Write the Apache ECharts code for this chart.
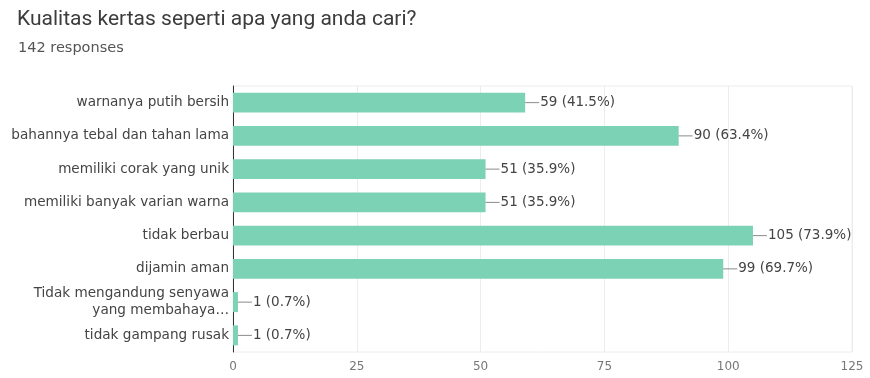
<!DOCTYPE html>
<html>
<head>
<meta charset="utf-8">
<script src="https://cdn.jsdelivr.net/npm/echarts@6/dist/echarts.min.js"></script>
<style>
  html, body { margin: 0; padding: 0; background: #fff; }
  #chart { width: 870px; height: 378px; }
</style>
</head>
<body>
<div id="chart"></div>
<script>
// Survey answers (top to bottom) and response counts
const categories = [
  'warnanya putih bersih',
  'bahannya tebal dan tahan lama',
  'memiliki corak yang unik',
  'memiliki banyak varian warna',
  'tidak berbau',
  'dijamin aman',
  'Tidak mengandung senyawa\nyang membahaya\u2026',
  'tidak gampang rusak'
];
const counts = [59, 90, 51, 51, 105, 99, 1, 1];
const totalResponses = 142;
const xTicks = [0, 25, 50, 75, 100, 125];

const chart = echarts.init(document.getElementById('chart'));
const labelFont = 'DejaVu Sans, sans-serif';

chart.setOption({
  animation: false,
  backgroundColor: '#ffffff',
  title: [
    {
      text: 'Kualitas kertas seperti apa yang anda cari?',
      left: 12, top: 4,
      textStyle: { fontFamily: 'Roboto, sans-serif', fontSize: 21, fontWeight: 'normal', color: '#3c3c3c' }
    },
    {
      text: totalResponses + ' responses',
      left: 13, top: 36,
      textStyle: { fontFamily: labelFont, fontSize: 14.5, fontWeight: 'normal', color: '#555' }
    }
  ],
  grid: {
    left: 233, right: 18, top: 86, bottom: 26,
    show: true, borderColor: '#ececec', borderWidth: 1
  },
  xAxis: {
    type: 'value',
    min: xTicks[0], max: xTicks[xTicks.length - 1], interval: 25,
    axisLine: { show: false },
    axisTick: { show: false },
    splitLine: { lineStyle: { color: '#ececec' } },
    axisLabel: { color: '#777', fontFamily: labelFont, fontSize: 12, margin: 9 }
  },
  yAxis: {
    type: 'category',
    inverse: true,
    data: categories,
    axisLine: { lineStyle: { color: '#333', width: 1 } },
    axisTick: { show: false },
    axisLabel: { color: '#444', fontFamily: labelFont, fontSize: 13.6, margin: 4, lineHeight: 17 }
  },
  series: [{
    type: 'bar',
    data: counts,
    barCategoryGap: '40%',
    itemStyle: { color: '#7cd2b5' },
    label: {
      show: true,
      position: 'right',
      distance: 0,
      formatter: p => '{l|}{v|' + p.value + ' (' + (p.value / totalResponses * 100).toFixed(1) + '%)}',
      rich: {
        l: { width: 14, height: 1, backgroundColor: '#8a8a8a', verticalAlign: 'middle' },
        v: { color: '#444', fontFamily: labelFont, fontSize: 13.5, padding: [0, 0, 0, 1] }
      }
    }
  }]
});
</script>
</body>
</html>
